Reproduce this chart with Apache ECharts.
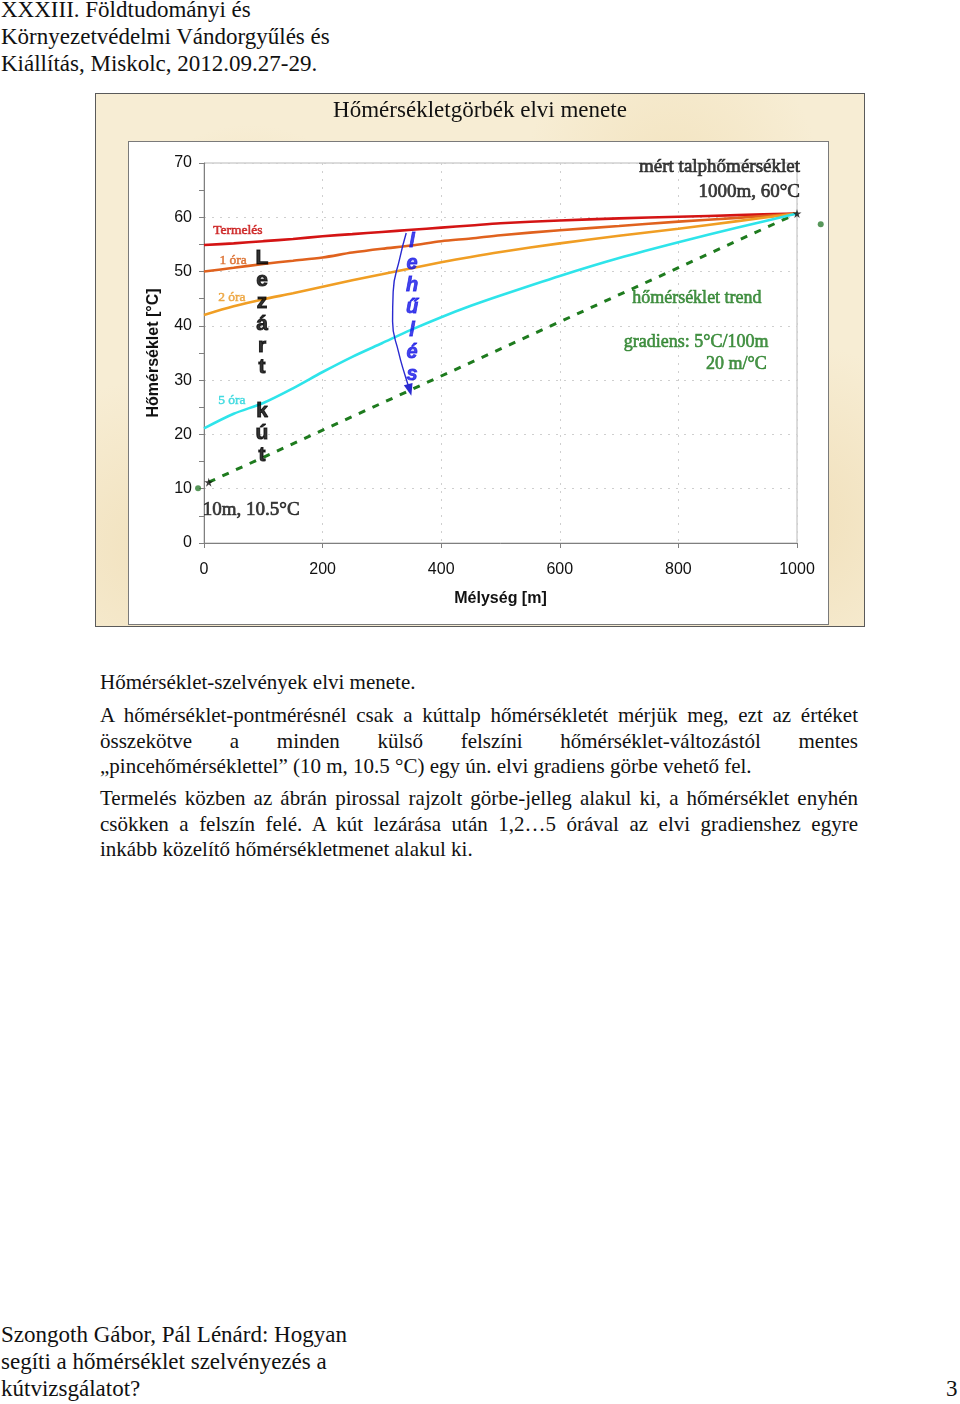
<!DOCTYPE html>
<html><head><meta charset="utf-8">
<script src="https://cdn.jsdelivr.net/npm/echarts@6/dist/echarts.min.js"></script>
<style>
html,body{margin:0;padding:0;background:#fff;}
body{width:960px;height:1404px;position:relative;overflow:hidden;font-family:"Liberation Serif","Times New Roman",serif;color:#111;}
.hdr{position:absolute;left:1px;top:-4px;font-size:23px;line-height:27px;white-space:nowrap;}
.frame{position:absolute;left:95px;top:93px;width:768px;height:532px;border:1px solid #5a5a5a;
 background:#f7edd4;
 background-image:radial-gradient(circle at 20% 30%,rgba(235,215,170,.55) 0,rgba(235,215,170,0) 18%),
 radial-gradient(circle at 75% 15%,rgba(240,222,180,.6) 0,rgba(240,222,180,0) 20%),
 radial-gradient(circle at 90% 80%,rgba(236,214,168,.6) 0,rgba(236,214,168,0) 22%),
 radial-gradient(circle at 8% 85%,rgba(238,218,175,.6) 0,rgba(238,218,175,0) 20%);}
.inner{position:absolute;left:128px;top:141px;width:699px;height:482px;border:1px solid #7a7a7a;background:#fff;}
#chart{position:absolute;left:95px;top:93px;width:770px;height:534px;}
.txt{position:absolute;left:100px;width:758px;font-size:21px;line-height:25.5px;}
.j{text-align:justify;text-align-last:justify;white-space:nowrap;}
.l{white-space:nowrap;}
.foot{position:absolute;left:1px;top:1321px;font-size:23px;line-height:27px;white-space:nowrap;}
.pg{position:absolute;left:946px;top:1375px;font-size:23px;line-height:27px;}
</style></head>
<body>
<div class="hdr">XXXIII. Földtudományi és<br>Környezetvédelmi Vándorgyűlés és<br>Kiállítás, Miskolc, 2012.09.27-29.</div>
<div class="frame"></div>
<div class="inner"></div>
<div id="chart"></div>
<div class="txt" style="top:670px"><div class="l">Hőmérséklet-szelvények elvi menete.</div></div>
<div class="txt" style="top:703px">
<div class="j">A hőmérséklet-pontmérésnél csak a kúttalp hőmérsékletét mérjük meg, ezt az értéket</div>
<div class="j">összekötve a minden külső felszíni hőmérséklet-változástól mentes</div>
<div class="l">„pincehőmérséklettel” (10 m, 10.5 °C) egy ún. elvi gradiens görbe vehető fel.</div>
</div>
<div class="txt" style="top:786px">
<div class="j">Termelés közben az ábrán pirossal rajzolt görbe-jelleg alakul ki, a hőmérséklet enyhén</div>
<div class="j">csökken a felszín felé. A kút lezárása után 1,2…5 órával az elvi gradienshez egyre</div>
<div class="l">inkább közelítő hőmérsékletmenet alakul ki.</div>
</div>
<div class="foot">Szongoth Gábor, Pál Lénárd: Hogyan<br>segíti a hőmérséklet szelvényezés a<br>kútvizsgálatot?</div>
<div class="pg">3</div>
<script>
// ---- data ----
const depth = [0,50,100,150,200,250,300,350,400,450,500,600,700,800,900,1000];
const tempTermeles = [54.9,55.2,55.6,56.0,56.5,56.9,57.3,57.7,58.1,58.5,58.9,59.4,59.8,60.1,60.4,60.7];
const temp1ora = [50.0,50.7,51.4,52.0,52.6,53.5,54.2,54.8,55.6,56.1,56.7,57.6,58.4,59.2,59.9,60.7];
const temp2ora = [42.0,43.6,44.9,46.0,47.2,48.4,49.5,50.6,51.7,52.7,53.6,55.2,56.6,57.9,59.3,60.7];
const temp5ora = [21.1,23.8,25.8,28.5,31.5,34.3,36.8,39.3,41.6,43.7,45.6,49.2,52.5,55.4,58.1,60.7];
const trendDepth = [8,1000];
const trendTemp = [11.2,60.7];
const measuredDepth = [8,1000];
const measuredTemp = [11.2,60.7];
const dotDepth = [-10,1040];
const dotTemp = [10.1,58.7];
const arrowDepth = [341,330,319,318,328,339,347];
const arrowTemp = [57.1,52.4,46.3,40.8,35.2,30.9,28.2];
const xTicks = [0,200,400,600,800,1000];
const yTicks = [0,10,20,30,40,50,60,70];
const title = 'Hőmérsékletgörbék elvi menete';
const xName = 'Mélység [m]';
const yName = 'Hőmérséklet [°C]';

const pairs = (xs, ys) => xs.map((x,i)=>[x, ys[i]]);
const serif = '"Liberation Serif","Times New Roman",serif';
const sans = '"Liberation Sans",Arial,sans-serif';

function note(text, x, y, pos, style){
  return {value:[x,y], label:Object.assign({show:true, formatter:text, position:pos, distance:0, fontFamily:serif}, style)};
}
function bolder(color, size, w){ return {color:color, fontSize:size, textBorderColor:color, textBorderWidth:w}; }

const notes = [
  note('Termelés', 57, 57.6, 'inside', bolder('#c81010', 13.5, 0.6)),
  note('1 óra', 49, 52.1, 'inside', bolder('#d8621c', 13.5, 0.5)),
  note('2 óra', 47, 45.3, 'inside', bolder('#eb9c2c', 13.5, 0.5)),
  note('5 óra', 47, 26.3, 'inside', bolder('#2ad6dc', 13.5, 0.5)),
  note('mért talphőmérséklet', 1005, 69.3, 'left', bolder('#111', 19, 0.7)),
  note('1000m, 60°C', 1005, 64.6, 'left', bolder('#111', 19, 0.7)),
  note('10m, 10.5°C', -2, 6.1, 'right', bolder('#111', 19, 0.7)),
  note('hőmérséklet trend', 722, 45.1, 'right', bolder('#1e7b1e', 18, 0.6)),
  note('gradiens: 5°C/100m', 708, 37.0, 'right', bolder('#1e7b1e', 18, 0.6)),
  note('20 m/°C', 949, 33.0, 'left', bolder('#1e7b1e', 18, 0.6)),
  note('L\ne\nz\ná\nr\nt\n\nk\nú\nt', 97.8, 34.3, 'inside', {color:'#000', fontSize:21, fontWeight:'bold', fontFamily:sans, lineHeight:21.8, textBorderColor:'#000', textBorderWidth:1}),
  note('l\ne\nh\nű\nl\né\ns', 351, 43.3, 'inside', {color:'#1414e6', fontSize:20, fontWeight:'bold', fontStyle:'italic', fontFamily:sans, lineHeight:22.3, textBorderColor:'#1414e6', textBorderWidth:0.8})
];

const arrowData = pairs(arrowDepth, arrowTemp).map((p,i,a)=> i===a.length-1
  ? {value:p, symbol:'triangle', symbolSize:[9,12], symbolRotate:195}
  : {value:p, symbol:'none'});

const chart = echarts.init(document.getElementById('chart'), null, {renderer:'canvas'});
chart.setOption({
  backgroundColor:'transparent',
  animation:false,
  title:{text:title, left:'center', top:1, textStyle:{fontFamily:serif, fontSize:23, fontWeight:'normal', color:'#111'}},
  grid:{left:109, right:68, top:70, bottom:84, show:true, borderColor:'#b8b8b8', borderWidth:1},
  xAxis:{type:'value', min:xTicks[0], max:xTicks[xTicks.length-1], interval:xTicks[1]-xTicks[0],
    name:xName, nameLocation:'middle', nameGap:48,
    nameTextStyle:{fontFamily:sans, fontSize:16, fontWeight:'bold', color:'#111'},
    axisLine:{lineStyle:{color:'#7f7f7f', width:1}},
    axisTick:{show:true, length:5, lineStyle:{color:'#7f7f7f'}},
    axisLabel:{fontFamily:sans, fontSize:16, color:'#111', margin:19, formatter:v=>String(v)},
    splitLine:{show:true, lineStyle:{color:'#cfcfcf', type:[2,6]}}},
  yAxis:{type:'value', min:yTicks[0], max:yTicks[yTicks.length-1], interval:yTicks[1]-yTicks[0],
    name:yName, nameLocation:'middle', nameGap:42, nameRotate:90,
    nameTextStyle:{fontFamily:sans, fontSize:16, fontWeight:'bold', color:'#111'},
    axisLine:{show:true, lineStyle:{color:'#7f7f7f', width:1}},
    axisTick:{show:true, length:5, lineStyle:{color:'#7f7f7f'}},
    minorTick:{show:true, splitNumber:2, length:5, lineStyle:{color:'#7f7f7f'}},
    axisLabel:{fontFamily:sans, fontSize:16, color:'#111', margin:12, formatter:v=>String(v)},
    splitLine:{show:true, lineStyle:{color:'#cfcfcf', type:[2,6]}}},
  series:[
    {name:'Termelés', type:'line', data:pairs(depth,tempTermeles), smooth:0.3, showSymbol:false, lineStyle:{color:'#d41414', width:2.6}, z:3},
    {name:'1 óra', type:'line', data:pairs(depth,temp1ora), smooth:0.3, showSymbol:false, lineStyle:{color:'#e0621e', width:2.6}, z:3},
    {name:'2 óra', type:'line', data:pairs(depth,temp2ora), smooth:0.3, showSymbol:false, lineStyle:{color:'#f09e24', width:2.6}, z:3},
    {name:'5 óra', type:'line', data:pairs(depth,temp5ora), smooth:0.3, showSymbol:false, lineStyle:{color:'#2ee4ea', width:2.6}, z:3},
    {name:'trend', type:'line', data:pairs(trendDepth,trendTemp), showSymbol:false, lineStyle:{color:'#1e7b1e', width:3, type:[7,8]}, z:2},
    {name:'lehűlés', type:'line', data:arrowData, smooth:0.5, symbol:'none', showSymbol:true,
      lineStyle:{color:'#2a2ad0', width:1.4}, itemStyle:{color:'#2a2ad0'}, z:4},
    {name:'mért', type:'scatter', data:pairs(measuredDepth,measuredTemp), symbol:'path://M50,0 L61,35 L98,35 L68,57 L79,91 L50,70 L21,91 L32,57 L2,35 L39,35 Z', symbolSize:9, itemStyle:{color:'#111'}, z:6},
    {name:'pont', type:'scatter', data:pairs(dotDepth,dotTemp), symbol:'circle', symbolSize:6, clip:false, itemStyle:{color:'#2e7d32'}, z:6},
    {name:'notes', type:'scatter', data:notes, symbolSize:0, silent:true, clip:false, z:10}
  ]
});
</script>
</body></html>
